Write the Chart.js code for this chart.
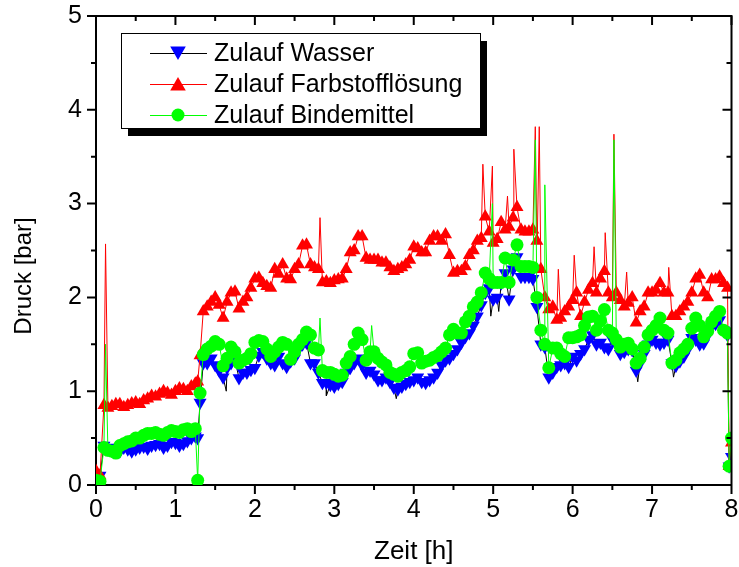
<!DOCTYPE html>
<html>
<head>
<meta charset="utf-8">
<script src="https://cdn.jsdelivr.net/npm/chart.js@4.4.1/dist/chart.umd.min.js"></script>
<style>
  html, body { margin: 0; padding: 0; background: #fff; }
  #wrap { width: 739px; height: 567px; }
</style>
</head>
<body>
<div id="wrap"><canvas id="druck" width="739" height="567"></canvas></div>
<script>
// Zeitpunkte [h], Messraster
const times = [0, 0.05, 0.1, 0.2, 0.3, 0.4, 0.5, 0.6, 0.7, 0.8, 0.9, 1.0, 1.1, 1.2, 1.25, 1.28, 1.31, 1.35,
  1.4, 1.5, 1.6, 1.7, 1.8, 1.9, 2.0, 2.1, 2.2, 2.3, 2.4, 2.5, 2.6, 2.7, 2.8, 2.9, 3.0, 3.1, 3.2, 3.3, 3.4, 3.5,
  3.6, 3.7, 3.8, 3.9, 4.0, 4.1, 4.2, 4.3, 4.4, 4.5, 4.6, 4.7, 4.8, 4.9, 5.0, 5.1, 5.2, 5.3, 5.4, 5.5,
  5.6, 5.7, 5.8, 5.9, 6.0, 6.1, 6.2, 6.3, 6.4, 6.5, 6.6, 6.7, 6.8, 6.9, 7.0, 7.1, 7.2, 7.3, 7.4, 7.5,
  7.6, 7.7, 7.8, 7.9, 7.95, 7.97, 8.0];

// Zwischenzeitpunkte [h]
const timesB = [0.15, 0.25, 0.35, 0.45, 0.55, 0.65, 0.75, 0.85, 0.95, 1.05, 1.15,
  1.45, 1.55, 1.65, 1.75, 1.85, 1.95, 2.05, 2.15, 2.25, 2.35,
  2.45, 2.55, 2.65, 2.75, 2.85, 2.95, 3.05, 3.15, 3.25, 3.35,
  3.45, 3.55, 3.65, 3.75, 3.85, 3.95, 4.05, 4.15, 4.25, 4.35,
  4.45, 4.55, 4.65, 4.75, 4.85, 4.95, 5.05, 5.15, 5.25, 5.35,
  5.45, 5.55, 5.65, 5.75, 5.85, 5.95, 6.05, 6.15, 6.25, 6.35,
  6.45, 6.55, 6.65, 6.75, 6.85, 6.95, 7.05, 7.15, 7.25, 7.35,
  7.45, 7.55, 7.65, 7.75, 7.85];

// Druck [bar]
const wasser = [0.05, 0.1, 0.42, 0.4, 0.36, 0.38, 0.38, 0.41, 0.42, 0.44, 0.42, 0.45, 0.44, 0.5, 0.52, 0.5, 0.88, 1.3,
  1.3, 1.28, 1.15, 1.3, 1.14, 1.2, 1.25, 1.42, 1.3, 1.37, 1.26, 1.35, 1.5, 1.3, 1.2, 1.09, 1.05, 1.1, 1.25, 1.35, 1.2, 1.18,
  1.12, 1.1, 1.02, 1.08, 1.12, 1.1, 1.12, 1.2, 1.33, 1.4, 1.52, 1.62, 1.8, 2.05, 1.98, 2.15, 1.98, 2.43, 2.22, 2.2,
  1.5, 1.15, 1.26, 1.3, 1.37, 1.4, 1.55, 1.5, 1.47, 1.55, 1.4, 1.45, 1.22, 1.4, 1.55, 1.5, 1.55, 1.27, 1.37, 1.57,
  1.5, 1.6, 1.72, 1.65, 1.6, 0.2, 0.3];
const wasserB = [0.38, 0.37, 0.4, 0.36, 0.4, 0.39, 0.43, 0.4, 0.46, 0.42, 0.47,
  1.35, 1.22, 1.25, 1.33, 1.2, 1.23, 1.38, 1.35, 1.28, 1.3,
  1.32, 1.45, 1.52, 1.3, 1.09, 1.07, 1.08, 1.2, 1.3, 1.28,
  1.22, 1.12, 1.15, 1.04, 1.05, 1.1, 1.15, 1.09, 1.15, 1.28,
  1.35, 1.45, 1.58, 1.7, 1.92, 2.1, 2.0, 2.26, 2.3, 2.22,
  2.22, 1.9, 1.47, 1.2, 1.28, 1.26, 1.33, 1.45, 1.6, 1.52,
  1.45, 1.5, 1.42, 1.44, 1.3, 1.5, 1.52, 1.52, 1.3, 1.32,
  1.45, 1.55, 1.51, 1.69, 1.76];

const farbstoff = [0.15, 0.1, 0.85, 0.84, 0.86, 0.85, 0.88, 0.9, 0.95, 0.97, 0.98, 1.0, 1.02, 1.05, 1.08, 1.1, 1.38, 1.85,
  1.9, 2.0, 1.78, 2.05, 1.88, 2.0, 2.2, 2.15, 2.1, 2.25, 2.2, 2.3, 2.55, 2.35, 2.3, 2.17, 2.18, 2.2, 2.48, 2.65, 2.42, 2.4,
  2.37, 2.32, 2.3, 2.35, 2.54, 2.48, 2.6, 2.65, 2.67, 2.26, 2.28, 2.45, 2.6, 2.86, 2.58, 2.8, 2.75, 2.96, 2.7, 2.72,
  2.3, 1.87, 1.76, 1.85, 1.97, 1.8, 2.08, 2.05, 2.28, 2.0, 1.97, 1.94, 1.73, 1.9, 2.05, 2.15, 2.05, 1.8, 1.9, 2.05,
  2.24, 2.0, 2.19, 2.15, 2.1, 0.2, 0.45];
const farbstoffB = [0.82, 0.86, 0.83, 0.87, 0.86, 0.92, 0.94, 1.0, 0.96, 1.03, 1.0,
  1.95, 1.92, 1.95, 2.06, 1.95, 2.1, 2.21, 2.12, 2.3, 2.35,
  2.19, 2.35, 2.56, 2.32, 2.16, 2.15, 2.19, 2.3, 2.5, 2.65,
  2.4, 2.4, 2.37, 2.28, 2.32, 2.4, 2.52, 2.48, 2.65, 2.6,
  2.45, 2.28, 2.33, 2.5, 2.63, 2.7, 2.62, 2.72, 2.85, 2.72,
  2.7, 2.6, 2.0, 1.9, 1.78, 1.9, 2.05, 1.95, 2.15, 2.2,
  2.05, 2.05, 1.9, 2.0, 1.85, 2.05, 2.08, 2.05, 1.8, 1.85,
  1.95, 2.2, 2.05, 2.19, 2.22];

const bindemittel = [0.05, 0.04, 0.4, 0.36, 0.42, 0.46, 0.5, 0.53, 0.55, 0.54, 0.56, 0.57, 0.59, 0.57, 0.6, 0.05, 0.98, 1.39,
  1.45, 1.53, 1.27, 1.47, 1.3, 1.35, 1.52, 1.53, 1.37, 1.47, 1.5, 1.42, 1.55, 1.6, 1.44, 1.2, 1.18, 1.17, 1.37, 1.62, 1.33, 1.42,
  1.31, 1.2, 1.16, 1.22, 1.4, 1.3, 1.33, 1.38, 1.46, 1.66, 1.62, 1.8, 1.95, 2.26, 2.16, 2.16, 2.16, 2.56, 2.33, 2.32,
  1.65, 1.25, 1.46, 1.37, 1.57, 1.6, 1.79, 1.65, 1.87, 1.62, 1.47, 1.51, 1.3, 1.47, 1.65, 1.78, 1.62, 1.33, 1.45, 1.67,
  1.7, 1.64, 1.8, 1.65, 1.62, 0.2, 0.5];
const bindemittelB = [0.37, 0.34, 0.44, 0.47, 0.5, 0.55, 0.56, 0.53, 0.58, 0.56, 0.6,
  1.48, 1.5, 1.35, 1.42, 1.33, 1.4, 1.54, 1.45, 1.42, 1.52,
  1.34, 1.5, 1.63, 1.46, 1.22, 1.2, 1.16, 1.3, 1.5, 1.55,
  1.42, 1.35, 1.28, 1.18, 1.2, 1.26, 1.41, 1.32, 1.36, 1.42,
  1.6, 1.62, 1.74, 1.9, 2.05, 2.2, 2.16, 2.42, 2.4, 2.33,
  2.33, 2.0, 1.5, 1.46, 1.4, 1.57, 1.58, 1.7, 1.8, 1.75,
  1.65, 1.55, 1.5, 1.45, 1.35, 1.6, 1.7, 1.65, 1.3, 1.41,
  1.5, 1.78, 1.58, 1.74, 1.85];

// Kurze Druckspitzen [Zeit, Druck] (ohne Symbol)
const spikesWasser = [[1.64, 1.0], [2.9, 0.95], [3.78, 0.92], [4.97, 1.8], [5.07, 1.85], [6.82, 1.1], [7.27, 1.15]];
const spikesFarbstoff = [[0.12, 2.57], [2.82, 2.85], [4.87, 3.42], [4.99, 3.4], [5.18, 3.08], [5.26, 3.58],
  [5.53, 3.82], [5.555, 2.6], [5.58, 3.82], [5.82, 2.3], [6.02, 2.45], [6.27, 2.54], [6.41, 2.69], [6.52, 3.74],
  [6.68, 2.27], [7.21, 2.32]];
const spikesBindemittel = [[0.12, 1.5], [2.82, 1.78], [3.47, 1.7], [4.99, 3.0], [5.53, 3.68], [5.65, 3.2], [6.52, 3.68]];

const xTickStep = 1;
const yTickStep = 1;

const FONT = "'Liberation Sans', Arial, sans-serif";

/** Messwerte, Zwischenwerte und Spitzen zu einer sortierten Punktliste zusammenfuehren */
function buildPoints(values, valuesB, spikes) {
  const pts = times.map((t, i) => ({ x: t, y: values[i] }));
  timesB.forEach((t, i) => pts.push({ x: t, y: valuesB[i] }));
  spikes.forEach(s => pts.push({ x: s[0], y: s[1], spike: true }));
  return pts.sort((a, b) => a.x - b.x);
}

const markerRadius = r => ctx => (ctx.raw && ctx.raw.spike ? 0 : r);

/** Rahmen, Teilstriche, Legende und y-Titel wie im Origin-Plot */
const framePlugin = {
  id: 'frame',
  afterDraw(chart) {
    const { ctx, chartArea: a, scales: { x, y } } = chart;
    ctx.save();
    ctx.strokeStyle = '#000';
    ctx.lineWidth = 2;
    ctx.beginPath();
    ctx.moveTo(a.left, a.top);
    ctx.lineTo(a.right, a.top);
    ctx.lineTo(a.right, a.bottom);
    ctx.stroke();

    // Teilstriche: unten/links nach aussen, oben/rechts nach innen
    const major = 9, minor = 5;
    ctx.beginPath();
    for (let v = x.min; v <= x.max + 1e-9; v += xTickStep / 2) {
      const px = x.getPixelForValue(v);
      const len = Math.abs(v % xTickStep) < 1e-9 ? major : minor;
      ctx.moveTo(px, a.bottom); ctx.lineTo(px, a.bottom + len);
      ctx.moveTo(px, a.top); ctx.lineTo(px, a.top + len);
    }
    for (let v = y.min; v <= y.max + 1e-9; v += yTickStep / 2) {
      const py = y.getPixelForValue(v);
      const len = Math.abs(v % yTickStep) < 1e-9 ? major : minor;
      ctx.moveTo(a.left, py); ctx.lineTo(a.left - len, py);
      ctx.moveTo(a.right, py); ctx.lineTo(a.right - len, py);
    }
    ctx.stroke();

    // Legende mit Schatten
    const lx = a.left + 25, ly = a.top + 17, lw = 359, lh = 95;
    ctx.fillStyle = '#000';
    ctx.fillRect(lx + 7, ly + 8, lw, lh);
    ctx.fillStyle = '#fff';
    ctx.fillRect(lx, ly, lw, lh);
    ctx.lineWidth = 1;
    ctx.strokeStyle = '#000';
    ctx.strokeRect(lx + 0.5, ly + 0.5, lw, lh);

    ctx.font = '25px ' + FONT;
    ctx.textBaseline = 'middle';
    ctx.textAlign = 'left';
    chart.data.datasets.forEach((ds, i) => {
      const ry = ly + 20 + i * 31;
      ctx.strokeStyle = ds.borderColor;
      ctx.lineWidth = 1;
      ctx.beginPath();
      ctx.moveTo(lx + 29, ry + 0.5);
      ctx.lineTo(lx + 86, ry + 0.5);
      ctx.stroke();
      ctx.fillStyle = ds.pointBackgroundColor;
      Chart.helpers.drawPoint(ctx, {
        pointStyle: ds.pointStyle,
        rotation: ds.pointRotation || 0,
        radius: ds.legendRadius,
        borderWidth: 0
      }, lx + 57, ry + (ds.pointStyle === 'triangle' ? (ds.pointRotation ? -2 : 2) : 0));
      ctx.fillStyle = '#000';
      ctx.fillText(ds.label, lx + 93, ry + 1);
    });

    // y-Achsentitel
    ctx.save();
    ctx.font = '24px ' + FONT;
    ctx.translate(24, 276);
    ctx.rotate(-Math.PI / 2);
    ctx.textAlign = 'center';
    ctx.fillStyle = '#000';
    ctx.fillText('Druck [bar]', 0, 0);
    ctx.restore();

    ctx.restore();
  }
};

new Chart(document.getElementById('druck'), {
  type: 'line',
  data: {
    datasets: [{
      label: 'Zulauf Wasser',
      data: buildPoints(wasser, wasserB, spikesWasser),
      borderColor: '#000000',
      borderWidth: 1,
      pointStyle: 'triangle',
      pointRotation: 180,
      pointRadius: markerRadius(7.5),
      legendRadius: 9,
      pointBackgroundColor: '#0000ff',
      pointBorderWidth: 0,
      order: 3,
    }, {
      label: 'Zulauf Farbstofflösung',
      data: buildPoints(farbstoff, farbstoffB, spikesFarbstoff),
      borderColor: '#ff0000',
      borderWidth: 1,
      pointStyle: 'triangle',
      pointRadius: markerRadius(7.5),
      legendRadius: 9,
      pointBackgroundColor: '#ff0000',
      pointBorderWidth: 0,
      order: 2,
    }, {
      label: 'Zulauf Bindemittel',
      data: buildPoints(bindemittel, bindemittelB, spikesBindemittel),
      borderColor: '#00ff00',
      borderWidth: 1,
      pointStyle: 'circle',
      pointRadius: markerRadius(6.5),
      legendRadius: 6.5,
      pointBackgroundColor: '#00ff00',
      pointBorderWidth: 0,
      order: 1,
    }]
  },
  options: {
    responsive: false,
    animation: false,
    clip: 0,
    layout: { padding: { top: 16, right: 3, left: 0, bottom: 0 } },
    elements: { line: { tension: 0 } },
    plugins: {
      legend: { display: false },
      tooltip: { enabled: false },
    },
    scales: {
      x: {
        type: 'linear',
        min: 0,
        max: 8,
        grid: { display: false, drawTicks: false },
        border: { display: true, color: '#000', width: 2 },
        ticks: { stepSize: xTickStep, padding: 10, color: '#000', maxRotation: 0, autoSkip: false,
          font: { family: FONT, size: 25 } },
        title: { display: true, text: 'Zeit [h]', color: '#000', font: { family: FONT, size: 26 },
          padding: { top: 0, bottom: 0 } },
        afterFit(s) { s.height = 82; s.paddingLeft = 0; s.paddingRight = 0; },
      },
      y: {
        type: 'linear',
        min: 0,
        max: 5,
        grid: { display: false, drawTicks: false },
        border: { display: true, color: '#000', width: 2 },
        ticks: { stepSize: yTickStep, padding: 14, color: '#000', font: { family: FONT, size: 25 } },
        afterFit(s) { s.width = 96; s.paddingTop = 0; s.paddingBottom = 0; },
      }
    }
  },
  plugins: [framePlugin]
});
</script>
</body>
</html>
